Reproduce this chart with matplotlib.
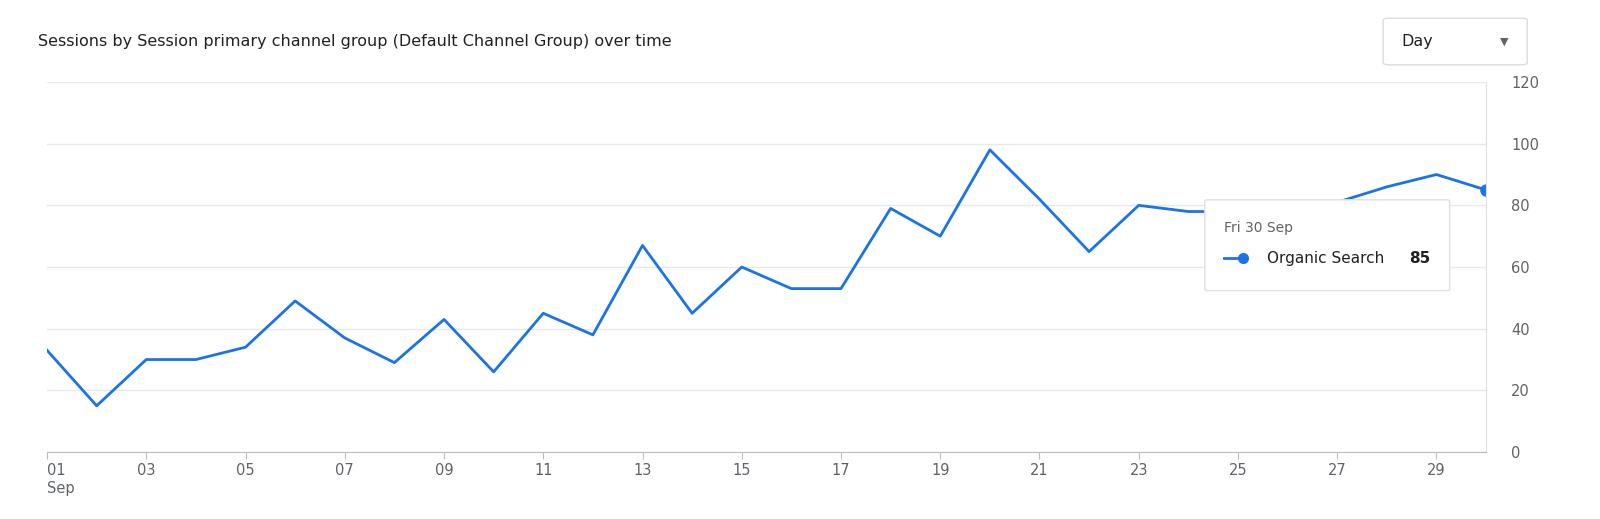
import matplotlib.pyplot as plt
from matplotlib.patches import FancyBboxPatch
from matplotlib.lines import Line2D

days = list(range(1, 31))
sessions = [33, 15, 30, 30, 34, 49, 37, 29, 43, 26, 45, 38, 67, 45, 60, 53, 53, 79, 70, 98,
            82, 65, 80, 78, 78, 78, 81, 86, 90, 85]
xticks = list(range(1, 31, 2))
xticklabels = ["01\nSep"] + [f"{d:02d}" for d in xticks[1:]]
yticks = [0, 20, 40, 60, 80, 100, 120]
title = "Sessions by Session primary channel group (Default Channel Group) over time"

blue = "#1a73e8"
fig = plt.figure(figsize=(16, 5.19), dpi=100)
ax = fig.add_axes([0.0294, 0.129, 0.8994, 0.713])
ax.plot(days, sessions, color=blue, lw=2)
ax.plot(days[-1], sessions[-1], 'o', color=blue, ms=8)
ax.set_xlim(1, 30)
ax.set_ylim(0, 120)
ax.set_yticks(yticks)
ax.yaxis.tick_right()
ax.grid(axis='y', color='#e8e8e8', lw=1)
ax.set_xticks(xticks)
ax.set_xticklabels(xticklabels, fontsize=10.5, color='#5f6368', ha='center', va='top')
for lab in ax.get_xticklabels()[:1]:
    lab.set_ha('left')
    lab.set_x(1)
ax.tick_params(axis='y', length=0, labelsize=10.5, labelcolor='#5f6368', pad=18)
ax.tick_params(axis='x', length=5, color='#bdbdbd', pad=3)
for s in ['top', 'left']:
    ax.spines[s].set_visible(False)
ax.spines['right'].set_color('#e0e0e0')
ax.spines['bottom'].set_color('#bdbdbd')

fig.text(0.024, 0.92, title, fontsize=11.5, color='#202124', va='center')

# dropdown
fig.patches.append(FancyBboxPatch((0.8645, 0.875), 0.09, 0.09, boxstyle="round,pad=0,rounding_size=0.004",
                                  transform=fig.transFigure, fc='white', ec='#dadce0', lw=1))
fig.text(0.876, 0.92, "Day", fontsize=11.5, color='#202124', va='center')
fig.text(0.94, 0.92, "▼", fontsize=8, color='#5f6368', va='center', ha='center')

# tooltip
fig.patches.append(FancyBboxPatch((0.753, 0.44), 0.153, 0.175, boxstyle="round,pad=0,rounding_size=0.002",
                                  transform=fig.transFigure, fc='white', ec='#e0e0e0', lw=1, zorder=5))
fig.text(0.765, 0.56, "Fri 30 Sep", fontsize=10, color='#5f6368', va='center', zorder=6)
fig.lines.append(Line2D([0.765, 0.777], [0.502, 0.502], transform=fig.transFigure, color=blue, lw=2, zorder=6))
fig.lines.append(Line2D([0.777], [0.502], transform=fig.transFigure, color=blue, marker='o', ms=7, zorder=6))
fig.text(0.792, 0.502, "Organic Search", fontsize=11, color='#202124', va='center', zorder=6)
fig.text(0.894, 0.502, str(sessions[-1]), fontsize=11, color='#202124', fontweight='bold', va='center', ha='right', zorder=6)

fig.savefig("out.png", dpi=100, facecolor='white')
